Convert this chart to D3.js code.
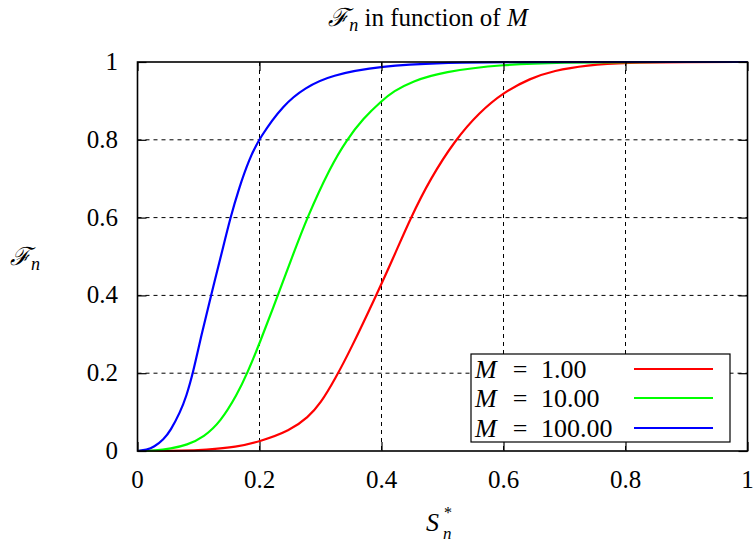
<!DOCTYPE html>
<html>
<head>
<meta charset="utf-8">
<script src="https://cdn.jsdelivr.net/npm/d3@7"></script>
<style>
  html, body { margin: 0; padding: 0; background: #fff; }
  svg { display: block; }
</style>
</head>
<body>
<svg id="chart" width="756" height="543"></svg>
<script>
// Cumulative curves F_n(S*_n) for three values of M
const seriesLabels = ["1.00", "10.00", "100.00"];
const seriesColors = ["#ff0000", "#00ff00", "#0000ff"];

const curveM1 = [
  [0, 0], [0.08, 0.0005], [0.109, 0.003], [0.163, 0.010], [0.2, 0.024],
  [0.25, 0.052], [0.28, 0.087], [0.3, 0.122], [0.324, 0.185], [0.35, 0.263],
  [0.389, 0.392], [0.419, 0.495], [0.447, 0.597], [0.48, 0.70], [0.521, 0.8],
  [0.56, 0.87], [0.6, 0.922], [0.644, 0.958], [0.682, 0.978], [0.737, 0.992],
  [0.8, 0.999], [0.9, 1], [1, 1]
];
const curveM10 = [
  [0, 0], [0.03, 0.001], [0.054, 0.006], [0.081, 0.015], [0.109, 0.036],
  [0.136, 0.075], [0.163, 0.144], [0.18, 0.2], [0.2, 0.276], [0.23, 0.4],
  [0.256, 0.509], [0.278, 0.6], [0.316, 0.73], [0.343, 0.8], [0.37, 0.855],
  [0.4, 0.9], [0.42, 0.925], [0.45, 0.95], [0.5, 0.975], [0.6, 0.994],
  [0.7, 0.999], [0.8, 1], [1, 1]
];
const curveM100 = [
  [0, 0], [0.015, 0.003], [0.027, 0.01], [0.043, 0.03], [0.054, 0.052],
  [0.07, 0.10], [0.08, 0.14], [0.091, 0.2], [0.105, 0.3], [0.1206, 0.4],
  [0.139, 0.515], [0.152, 0.598], [0.166, 0.674], [0.183, 0.75], [0.2, 0.805],
  [0.24, 0.892], [0.275, 0.934], [0.316, 0.966], [0.4, 0.99], [0.5, 0.998],
  [0.6, 1], [1, 1]
];
const allCurves = [curveM1, curveM10, curveM100];

const xTicks = [0, 0.2, 0.4, 0.6, 0.8, 1];
const yTicks = [0, 0.2, 0.4, 0.6, 0.8, 1];
const xTickLabels = ["0", "0.2", "0.4", "0.6", "0.8", "1"];
const yTickLabels = ["0", "0.2", "0.4", "0.6", "0.8", "1"];

// pick the first installed serif face
function pickFont(cands) {
  const ctx = document.createElement("canvas").getContext("2d");
  const probe = "in function of 0.2 M = 1.00";
  for (const f of cands) {
    for (const b of ["monospace", "sans-serif"]) {
      ctx.font = `24px ${b}`;
      const w0 = ctx.measureText(probe).width;
      ctx.font = `24px "${f}", ${b}`;
      const w1 = ctx.measureText(probe).width;
      if (Math.abs(w1 - w0) > 0.5) return f;
    }
  }
  return null;
}
const serifFace = pickFont(["Liberation Serif", "Tinos", "Times New Roman", "DejaVu Serif", "Noto Serif", "FreeSerif"]);
const fontStack = (serifFace ? `"${serifFace}", ` : "") + "serif";

const svg = d3.select("#chart").attr("font-family", fontStack);
const plotLeft = 137.5, plotRight = 747.5, plotTop = 62, plotBottom = 451;

const x = d3.scaleLinear().domain([0, 1]).range([plotLeft, plotRight]);
const y = d3.scaleLinear().domain([0, 1]).range([plotBottom, plotTop]);

// grid
const grid = svg.append("g").attr("stroke", "#000").attr("stroke-width", 1)
  .attr("stroke-dasharray", "4,4");
xTicks.filter(t => t > 0 && t < 1).forEach(t => {
  grid.append("line").attr("x1", x(t)).attr("x2", x(t)).attr("y1", plotTop).attr("y2", plotBottom);
});
yTicks.filter(t => t > 0 && t < 1).forEach(t => {
  grid.append("line").attr("x1", plotLeft).attr("x2", plotRight).attr("y1", y(t)).attr("y2", y(t));
});

// curves
svg.append("defs").append("clipPath").attr("id", "plotClip")
  .append("rect").attr("x", plotLeft).attr("y", plotTop - 1)
  .attr("width", plotRight - plotLeft).attr("height", plotBottom - plotTop + 2);

const line = d3.line().x(d => x(d[0])).y(d => y(d[1])).curve(d3.curveBasis);
svg.append("g").attr("clip-path", "url(#plotClip)")
  .selectAll("path").data(allCurves).join("path")
  .attr("d", line)
  .attr("fill", "none")
  .attr("stroke", (d, i) => seriesColors[i])
  .attr("stroke-width", 2.2)
  .attr("stroke-linejoin", "round");

// axes with inward ticks on all four sides
const tickLen = 9;
const xAxisB = d3.axisBottom(x).tickValues(xTicks).tickSize(-tickLen).tickFormat("");
const xAxisT = d3.axisTop(x).tickValues(xTicks).tickSize(-tickLen).tickFormat("");
const yAxisL = d3.axisLeft(y).tickValues(yTicks).tickSize(-tickLen).tickFormat("");
const yAxisR = d3.axisRight(y).tickValues(yTicks).tickSize(-tickLen).tickFormat("");
[[xAxisB, `translate(0,${plotBottom})`], [xAxisT, `translate(0,${plotTop})`],
 [yAxisL, `translate(${plotLeft},0)`], [yAxisR, `translate(${plotRight},0)`]].forEach(([ax, tr]) => {
  const g = svg.append("g").attr("transform", tr).call(ax);
  g.select(".domain").remove();
  g.selectAll(".tick line").attr("stroke", "#000").attr("stroke-width", 1.2);
});

// border
svg.append("rect").attr("x", plotLeft).attr("y", plotTop)
  .attr("width", plotRight - plotLeft).attr("height", plotBottom - plotTop)
  .attr("fill", "none").attr("stroke", "#000").attr("stroke-width", 1.6);

// tick labels
svg.append("g").selectAll("text").data(xTicks).join("text")
  .attr("x", d => x(d)).attr("y", 488).attr("text-anchor", "middle")
  .attr("font-size", 25).text((d, i) => xTickLabels[i]);
svg.append("g").selectAll("text").data(yTicks).join("text")
  .attr("x", 118).attr("y", d => y(d) + 8).attr("text-anchor", "end")
  .attr("font-size", 25).text((d, i) => yTickLabels[i]);

// title
const title = svg.append("text").attr("x", 428).attr("y", 26).attr("font-size", 25)
  .attr("text-anchor", "middle");
title.append("tspan").attr("font-style", "italic").text("ℱ");
title.append("tspan").attr("dy", 5).attr("font-size", 18).attr("font-style", "italic").text("n");
title.append("tspan").attr("dy", -5).text(" in function of ");
title.append("tspan").attr("font-style", "italic").text("M");

// y label
const yl = svg.append("text").attr("x", 10).attr("y", 265).attr("font-size", 25);
yl.append("tspan").attr("font-style", "italic").text("ℱ");
yl.append("tspan").attr("dy", 5).attr("font-size", 18).attr("font-style", "italic").text("n");

// x label
const xl = svg.append("text").attr("x", 426).attr("y", 531).attr("font-size", 26).attr("font-style", "italic");
xl.append("tspan").text("S");
xl.append("tspan").attr("x", 444).attr("y", 518).attr("font-size", 16).attr("font-style", "normal").text("*");
xl.append("tspan").attr("x", 443).attr("y", 539).attr("font-size", 17).text("n");

// legend
const legend = svg.append("g");
legend.append("rect").attr("x", 471).attr("y", 354).attr("width", 259).attr("height", 88)
  .attr("fill", "#fff").attr("stroke", "#000").attr("stroke-width", 1.2);
const rowY = [369, 398, 428];
seriesLabels.forEach((lab, i) => {
  const row = legend.append("g");
  row.append("text").attr("x", 475).attr("y", rowY[i] + 9).attr("font-size", 26)
    .attr("font-style", "italic").text("M");
  row.append("text").attr("x", 520).attr("y", rowY[i] + 9).attr("font-size", 26)
    .attr("text-anchor", "middle").text("=");
  row.append("text").attr("x", 541).attr("y", rowY[i] + 9).attr("font-size", 26).text(lab);
  row.append("line").attr("x1", 634).attr("x2", 713).attr("y1", rowY[i]).attr("y2", rowY[i])
    .attr("stroke", seriesColors[i]).attr("stroke-width", 2.2);
});
</script>
</body>
</html>
